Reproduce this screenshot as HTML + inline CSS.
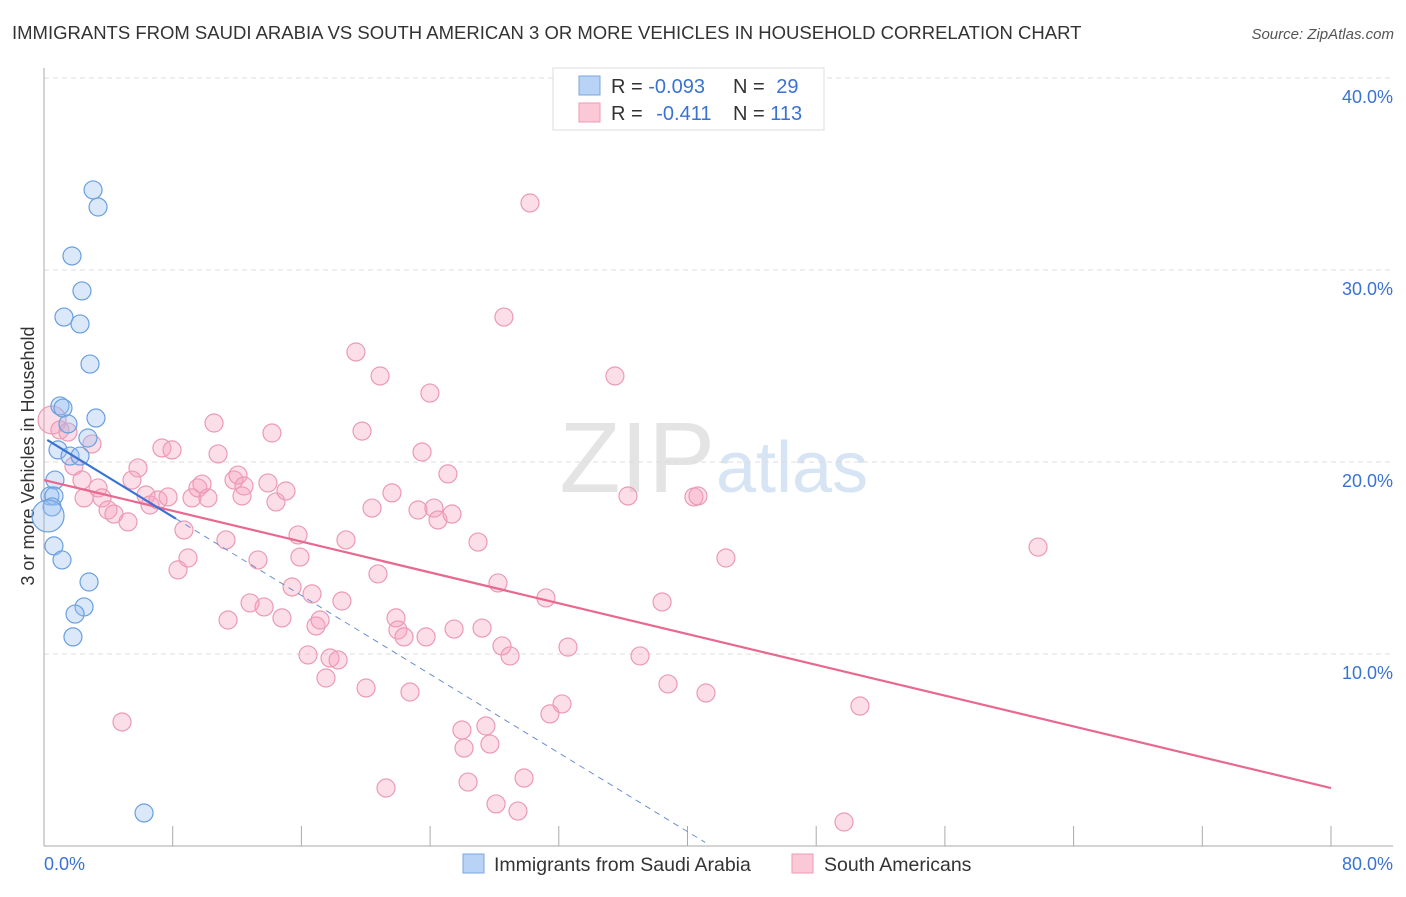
<!DOCTYPE html>
<html><head><meta charset="utf-8"><style>
body{margin:0;background:#fff;font-family:"Liberation Sans",sans-serif;}
svg text{font-family:"Liberation Sans",sans-serif;}
</style></head><body>
<svg id="c" width="1406" height="892">
<text x="12" y="39" font-size="18.5" fill="#333">IMMIGRANTS FROM SAUDI ARABIA VS SOUTH AMERICAN 3 OR MORE VEHICLES IN HOUSEHOLD CORRELATION CHART</text>
<text x="1394" y="39" font-size="15" fill="#555" font-style="italic" text-anchor="end">Source: ZipAtlas.com</text>
<text x="34" y="456" font-size="18" fill="#333" text-anchor="middle" transform="rotate(-90 34 456)">3 or more Vehicles in Household</text>
<text x="715" y="492" font-size="100" fill="#e4e4e4" text-anchor="end" font-family="Liberation Serif">ZIP</text>
<text x="716" y="492" font-size="72" fill="#d6e4f4">atlas</text>
<g id="grid"></g><g id="axes"></g><g id="marks"></g><g id="lines"></g>
<g>
<rect x="553" y="68" width="271" height="62" fill="#fff" stroke="#ddd"/>
<rect x="579" y="76" width="21" height="19" fill="#b8d3f5" stroke="#7aa7e0"/>
<rect x="579" y="103" width="21" height="19" fill="#fbc8d7" stroke="#ef9ab5"/>
<text x="611" y="93" font-size="20" fill="#333">R = <tspan fill="#3a72d4">-0.093</tspan></text>
<text x="733" y="93" font-size="20" fill="#333">N = <tspan fill="#3a72d4" dx="6">29</tspan></text>
<text x="611" y="120" font-size="20" fill="#333">R = <tspan fill="#3a72d4" dx="8">-0.411</tspan></text>
<text x="733" y="120" font-size="20" fill="#333">N = <tspan fill="#3a72d4">113</tspan></text>
</g>
<g>
<rect x="463" y="854" width="21" height="19" fill="#b8d3f5" stroke="#7aa7e0"/>
<text x="494" y="871" font-size="19.5" fill="#333">Immigrants from Saudi Arabia</text>
<rect x="792" y="854" width="21" height="19" fill="#fbc8d7" stroke="#ef9ab5"/>
<text x="824" y="871" font-size="19.5" fill="#333">South Americans</text>
</g>
</svg>
<script>
const yTicks=[10,20,30,40];
const yTickLabels=["10.0%","20.0%","30.0%","40.0%"];
const xTickCount=10;
const blueX=[3.05,3.36,1.74,2.36,1.24,2.24,2.86,0.99,1.18,3.23,1.49,2.73,0.87,1.62,2.24,0.68,0.37,0.62,0.5,0.25,0.62,1.12,2.8,2.49,1.93,1.8,6.22];
const blueY=[34.17,33.28,30.73,28.91,27.55,27.19,25.1,22.92,22.81,22.29,21.98,21.25,20.63,20.31,20.31,19.06,18.23,18.23,17.66,17.19,15.63,14.9,13.75,12.45,12.08,10.89,1.72];
const pinkX=[0.5,0.99,1.49,2.98,1.86,2.36,2.49,3.36,3.61,3.98,4.35,5.22,4.85,5.84,5.47,6.34,6.59,7.09,7.33,7.96,7.71,8.33,8.7,8.95,9.2,9.57,10.19,9.82,10.57,10.82,11.31,11.44,11.81,12.06,12.31,12.43,12.81,13.3,13.68,13.92,14.17,14.42,14.79,15.04,15.42,15.79,15.91,16.41,16.66,16.91,17.16,17.53,17.78,18.28,18.52,18.77,19.39,19.77,20.02,20.39,20.76,20.89,21.26,21.63,21.88,22.0,22.38,22.75,23.25,23.5,23.75,23.99,24.24,24.49,25.11,25.36,25.49,25.98,26.11,26.36,26.98,27.23,27.47,27.72,28.1,28.22,28.47,28.59,28.97,29.46,29.84,30.21,31.2,31.45,32.2,32.57,35.49,36.3,37.05,38.42,38.79,40.4,40.65,41.15,42.39,49.73,50.72,61.79];
const pinkY=[22.19,21.67,21.56,20.94,19.79,19.06,18.13,18.65,18.13,17.5,17.29,16.88,6.46,19.69,19.06,18.28,17.76,18.02,20.73,20.63,18.18,14.38,16.46,15.0,18.13,18.65,18.13,18.85,22.03,20.42,15.94,11.77,19.06,19.32,18.23,18.75,12.66,14.9,12.45,18.91,21.51,17.92,11.88,18.49,13.49,16.2,15.05,9.95,13.13,11.46,11.77,8.75,9.79,9.69,12.76,15.94,25.73,21.61,8.23,17.6,14.17,24.48,3.02,18.39,11.88,11.25,10.89,8.02,17.5,20.52,10.89,23.59,17.6,16.98,19.38,17.29,11.3,6.04,5.1,3.33,15.83,11.35,6.25,5.31,2.19,13.7,10.42,27.55,9.9,1.82,3.54,33.49,12.92,6.88,7.4,10.36,24.48,18.23,9.9,12.71,8.44,18.18,18.23,7.97,15.0,1.25,7.29,15.57];
const svg=document.getElementById('c'),NS='http://www.w3.org/2000/svg';
const X=v=>44+v/80*1287, Y=v=>846-v*19.2;
function mk(p,t,a){const e=document.createElementNS(NS,t);for(const k in a)e.setAttribute(k,a[k]);document.getElementById(p).appendChild(e);return e;}
yTicks.forEach((t,i)=>{
 let l=mk('grid','line',{x1:44,x2:1393,y1:Y(t),y2:Y(t),stroke:'#ddd','stroke-dasharray':'5,4'});
 
 
 let tx=mk('axes','text',{x:1393,y:Y(t)+25,'font-size':18,fill:'#3a72d4','text-anchor':'end'});tx.textContent=yTickLabels[i];
 
 
});
let ax=mk('axes','line',{x1:44,x2:44,y1:68,y2:846,stroke:'#aaa'});


let bx=mk('axes','line',{x1:44,x2:1393,y1:846,y2:846,stroke:'#aaa'});


for(let i=0;i<=xTickCount;i++){let tk=mk('axes','line',{x1:X(i*8),x2:X(i*8),y1:826,y2:846,stroke:'#aaa'});
 
 }
let x0=mk('axes','text',{x:44,y:870,'font-size':18,fill:'#3a72d4'});x0.textContent='0.0%';


let x1=mk('axes','text',{x:1393,y:870,'font-size':18,fill:'#3a72d4','text-anchor':'end'});x1.textContent='80.0%';


pinkX.forEach((v,i)=>{const r=(i==0)?14:9;let c=mk('marks','circle',{cx:X(v),cy:Y(pinkY[i]),r:r,fill:'rgba(246,160,188,0.35)',stroke:'#ec9ab4','stroke-width':1.2});
 
 });
blueX.forEach((v,i)=>{const r=(i==19)?16:9;let c=mk('marks','circle',{cx:X(v),cy:Y(blueY[i]),r:r,fill:'rgba(150,190,240,0.35)',stroke:'#6a9fe0','stroke-width':1.2});
 
 });
const pinkFit=[19.06,3.02],blueFit=[21.25,0.75];
let pl=mk('lines','line',{x1:X(0),y1:Y(pinkFit[0]),x2:X(80),y2:Y(pinkFit[1]),stroke:'#e8688f','stroke-width':2.2});


const bs=(blueFit[1]-blueFit[0])/40;
let bl=mk('lines','line',{x1:X(0.2),y1:Y(blueFit[0]+bs*0.2),x2:X(8.2),y2:Y(blueFit[0]+bs*8.2),stroke:'#3a72d4','stroke-width':2.2});


let bd=mk('lines','line',{x1:X(8.2),y1:Y(blueFit[0]+bs*8.2),x2:X(41.1),y2:Y(blueFit[0]+bs*41.1),stroke:'#6a8fd0','stroke-width':1,'stroke-dasharray':'6,5'});


</script>
</body></html>
